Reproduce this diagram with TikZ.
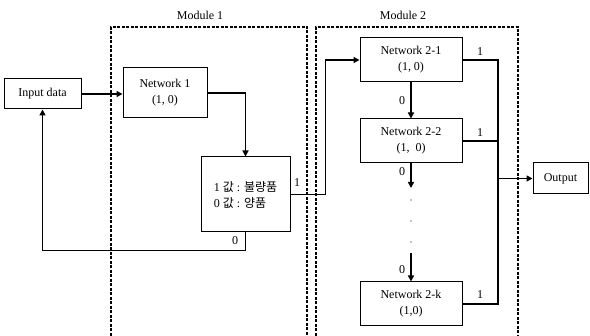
\documentclass[tikz,border=0pt]{standalone}
\usepackage{fontspec}
\setmainfont{Liberation Serif}
\newfontfamily\krfont{Noto Sans CJK KR}
\usetikzlibrary{arrows.meta}

\begin{document}
\begin{tikzpicture}[x=1pt, y=-1pt, font=\fontsize{12}{16}\selectfont,
    netbox/.style={draw, line width=1pt, align=center, inner sep=0pt},
    conn/.style={line width=1.7pt},
    arr/.style={conn, -{Triangle[length=6pt, width=6pt]}},
    modbox/.style={line width=1.3pt, dash pattern=on 3pt off 1.5pt}]
    \useasboundingbox (0, 0) rectangle (590, 336);

    % modules
    \draw[modbox] (111, 345) -- (111, 27) -- (307, 27) -- (307, 345);
    \draw[modbox] (316, 345) -- (316, 27) -- (518, 27) -- (518, 345);
    \node (mod1) at (200, 15) {Module 1};
    \node (mod2) at (403, 15) {Module 2};

    % boxes
    \node[netbox, minimum width=77pt, minimum height=30pt] (inp) at (42.5, 94) {Input data};
    \node[netbox, minimum width=84pt, minimum height=50pt] (net1) at (165, 93) {Network 1\\(1, 0)};
    \node[netbox, minimum width=89pt, minimum height=75pt, align=left] (judge) at (245.5, 194.5)
        {1 {\krfont 값} : {\krfont 불량품}\\0 {\krfont 값} : {\krfont 양품}};
    \node[netbox, minimum width=102pt, minimum height=44pt] (net21) at (411, 60) {Network 2-1\\(1, 0)};
    \node[netbox, minimum width=102pt, minimum height=44pt] (net22) at (411, 141) {Network 2-2\\(1,~~0)};
    \node[netbox, minimum width=102pt, minimum height=44pt] (net2k) at (411, 304) {Network 2-k\\(1,0)};
    \node[netbox, minimum width=55pt, minimum height=31pt] (outp) at (560.5, 178.5) {Output};

    % helper points
    \coordinate (d22) at (411, 188);
    \coordinate (d2k) at (411, 253);
    \coordinate (bus) at (498, 178.5);

    % module 1
    \draw[arr] (inp.east) -- (inp.east -| net1.west);
    \draw[arr] (net1.east) -| (judge.north);
    \draw[arr] (judge.south) -- ++(0, 18) -| (inp.south);
    \node (j0) at (235, 241) {0};

    % module 2
    \draw[arr] (judge.east) -- ++(35, 0) |- (net21.west);
    \node (j1) at (297, 183) {1};
    \draw[arr] (net21.south) -- (net22.north);
    \node (l21) at (402, 101) {0};
    \draw[arr] (net22.south) -- (d22);
    \node (l22) at (402, 172) {0};
    \foreach \yy in {200, 221, 242}
        \fill (411, \yy) circle (0.6pt);
    \draw[arr] (d2k) -- (net2k.north);
    \node (l2k) at (402, 270) {0};

    % outputs
    \draw[conn] (net21.east) -- (net21.east -| bus) -- (net2k.east -| bus) -- (net2k.east);
    \draw[conn] (net22.east) -- (net22.east -| bus);
    \node (o21) at (480, 52) {1};
    \node (o22) at (480, 133) {1};
    \node (o2k) at (480, 295) {1};
    \draw[arr] (bus) -- (outp.west);
\end{tikzpicture}
\end{document}
